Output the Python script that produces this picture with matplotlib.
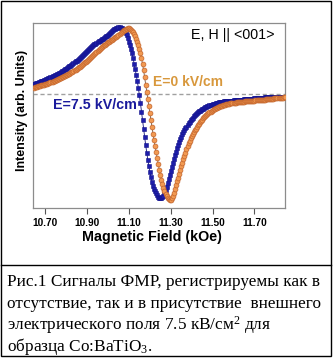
import numpy as np
import matplotlib
matplotlib.use("Agg")
import matplotlib.pyplot as plt
from matplotlib.patches import Rectangle
from matplotlib.lines import Line2D

plt.rcParams['font.family'] = ['Liberation Sans', 'DejaVu Sans']
plt.rcParams['mathtext.fontset'] = 'custom'
plt.rcParams['mathtext.rm'] = 'Liberation Serif'
plt.rcParams['mathtext.it'] = 'Liberation Serif:italic'

# field sweep, kOe
field_start = 10.645
field_step = 0.005

# FMR derivative signal, arb. units, baseline = 0
# E = 0 kV/cm
signal_e0 = [
    6.5, 6.8, 7.1, 7.4, 7.7, 8.0, 8.3, 8.6, 8.9, 9.2,
    9.5, 9.8, 10.2, 10.5, 10.9, 11.3, 11.7, 12.1, 12.5, 12.9,
    13.3, 13.8, 14.2, 14.7, 15.2, 15.7, 16.2, 16.7, 17.2, 17.7,
    18.2, 18.7, 19.3, 19.9, 20.5, 21.1, 21.7, 22.3, 23.0, 23.7,
    24.4, 25.1, 25.8, 26.6, 27.4, 28.2, 29.0, 29.8, 30.7, 31.6,
    32.5, 33.4, 34.4, 35.4, 36.4, 37.4, 38.4, 39.4, 40.4, 41.4,
    42.4, 43.4, 44.3, 45.2, 46.1, 47.0, 47.8, 48.6, 49.4, 50.2,
    50.9, 51.6, 52.3, 53.0, 53.8, 54.5, 55.3, 56.0, 56.8, 57.5,
    58.4, 59.2, 60.1, 61.0, 62.0, 63.0, 63.8, 64.5, 65.0, 65.5,
    65.7, 65.7, 65.2, 64.5, 63.4, 62.0, 60.2, 58.0, 55.2, 52.0,
    48.7, 45.0, 40.7, 36.0, 30.3, 24.0, 16.7, 9.0, 2.0, -5.0,
    -12.0, -19.0, -26.0, -33.0, -39.5, -46.0, -52.0, -58.0, -64.0, -70.0,
    -75.5, -81.0, -85.5, -90.0, -93.5, -97.0, -99.5, -102.0, -103.5, -105.0,
    -105.5, -105.5, -104.0, -102.0, -98.5, -95.0, -91.0, -87.0, -83.5, -80.0,
    -76.0, -72.0, -68.5, -65.0, -61.7, -58.5, -55.2, -52.0, -49.2, -46.5,
    -44.2, -42.0, -40.0, -38.0, -36.2, -34.5, -32.7, -31.0, -29.5, -28.0,
    -26.7, -25.5, -24.2, -23.0, -22.0, -21.0, -20.0, -19.0, -18.2, -17.5,
    -16.7, -16.0, -15.4, -14.7, -14.1, -13.5, -13.1, -12.7, -12.4, -12.0,
    -11.6, -11.2, -10.9, -10.5, -10.2, -10.0, -9.7, -9.5, -9.3, -9.1,
    -8.9, -8.7, -8.6, -8.5, -8.3, -8.2, -8.1, -8.0, -7.8, -7.7,
    -7.6, -7.5, -7.4, -7.3, -7.2, -7.1, -7.0, -6.9, -6.8, -6.7,
    -6.6, -6.5, -6.4, -6.3, -6.2, -6.1, -6.0, -5.9, -5.8, -5.7,
    -5.6, -5.5, -5.4, -5.2, -5.1, -5.0, -4.9, -4.8, -4.7, -4.5,
    -4.4, -4.3, -4.2, -4.1, -3.9, -3.8, -3.7, -3.6, -3.5, -3.4,
    -3.3,
]

# E = 7.5 kV/cm
signal_e75 = [
    10.2, 10.5, 10.8, 11.2, 11.5, 11.9, 12.3, 12.7, 13.1, 13.5,
    13.9, 14.3, 14.8, 15.2, 15.7, 16.2, 16.7, 17.2, 17.7, 18.2,
    18.7, 19.2, 19.7, 20.3, 20.9, 21.5, 22.1, 22.7, 23.3, 24.0,
    24.7, 25.4, 26.1, 26.8, 27.6, 28.4, 29.2, 30.0, 30.8, 31.7,
    32.6, 33.5, 34.4, 35.4, 36.4, 37.4, 38.4, 39.4, 40.4, 41.4,
    42.4, 43.4, 44.4, 45.3, 46.2, 47.1, 48.0, 48.8, 49.6, 50.4,
    51.2, 51.9, 52.6, 53.3, 54.0, 54.8, 55.5, 56.3, 57.0, 57.8,
    58.5, 59.4, 60.2, 61.1, 62.0, 63.0, 64.0, 64.8, 65.5, 66.0,
    66.4, 66.6, 66.7, 66.5, 66.0, 65.3, 64.3, 63.0, 61.0, 58.8,
    55.8, 52.5, 49.0, 45.2, 40.8, 36.0, 30.5, 25.0, 19.0, 13.0,
    6.5, -1.0, -9.0, -17.5, -26.0, -34.5, -43.0, -51.0, -58.5, -65.5,
    -72.0, -78.0, -83.0, -87.5, -91.5, -94.5, -97.0, -99.2, -101.0, -102.5,
    -103.5, -104.2, -104.3, -103.3, -101.8, -99.2, -96.0, -92.5, -88.6, -84.6,
    -80.6, -76.6, -72.6, -68.7, -64.8, -61.1, -57.6, -54.2, -51.0, -48.0,
    -45.2, -42.6, -40.2, -38.2, -36.2, -34.4, -32.7, -30.9, -29.2, -27.7,
    -26.2, -24.9, -23.7, -22.4, -21.2, -20.2, -19.2, -18.2, -17.3, -16.6,
    -15.9, -15.2, -14.5, -13.9, -13.3, -12.7, -12.1, -11.7, -11.3, -11.0,
    -10.6, -10.2, -9.9, -9.6, -9.2, -8.9, -8.7, -8.4, -8.2, -8.0,
    -7.8, -7.6, -7.4, -7.3, -7.2, -7.0, -6.9, -6.8, -6.7, -6.6,
    -6.5, -6.4, -6.3, -6.2, -6.1, -6.0, -5.9, -5.8, -5.7, -5.6,
    -5.5, -5.4, -5.3, -5.2, -5.1, -5.0, -4.9, -4.8, -4.7, -4.6,
    -4.5, -4.4, -4.3, -4.2, -4.1, -4.0, -3.9, -3.8, -3.7, -3.6,
    -3.5, -3.4, -3.3, -3.2, -3.2, -3.1, -3.0, -3.0, -2.9, -2.9,
    -2.8, -2.8, -2.8, -2.7, -2.7, -2.7, -2.6, -2.6, -2.6, -2.5,
    -2.5,
]

xticks = [10.70, 10.90, 11.10, 11.30, 11.50, 11.70]
xticklabels = ["10.70", "10.90", "11.10", "11.30", "11.50", "11.70"]

caption_lines = [
    "Рис.1 Сигналы ФМР, регистрируемы как в",
    "отсутствие, так и в присутствие  внешнего",
    "электрического поля 7.5 кВ/см$^2$ для",
    "образца Co:BaTiO$_3$.",
]

W, H = 336, 362
fig = plt.figure(figsize=(W / 100, H / 100), dpi=100)
fig.patch.set_facecolor('white')


def fx(px):
    return px / W


def fy(py):
    return 1 - py / H


ax_left, ax_right, ax_top, ax_bottom = 33.3, 285.0, 22.7, 208.0
ax = fig.add_axes([fx(ax_left), fy(ax_bottom),
                   (ax_right - ax_left) / W, (ax_bottom - ax_top) / H])

field_e0 = field_start + field_step * np.arange(len(signal_e0))
field_e75 = field_start + field_step * np.arange(len(signal_e75))

ax.axhline(0, color='#a0a0a0', lw=1.0, ls=(0, (3, 2)), zorder=1)

ax.plot(field_e75, signal_e75, '-', color='#14147a', lw=0.6, zorder=2)
ax.plot(field_e75, signal_e75, 's', ms=3.1, mfc='#1e1eaa', mec='#12128c',
        mew=0.4, ls='none', zorder=3)
ax.plot(field_e0, signal_e0, '-', color='#6e5544', lw=0.6, zorder=4)
ax.plot(field_e0, signal_e0, 'o', ms=3.5, mfc='#f29a52', mec='#c2642c',
        mew=0.5, ls='none', zorder=5)

ax.set_xlim(10.643, 11.846)
ax.set_ylim(-114, 71.3)
ax.set_yticks([])
ax.set_xticks(xticks)
ax.set_xticklabels(xticklabels, fontsize=7.3, fontweight='bold')
ax.tick_params(axis='x', direction='out', length=4, width=0.8,
               color='#555555', pad=3)
for s in ax.spines.values():
    s.set_color('#8c8c8c')
    s.set_linewidth(0.9)

ax.text(0.960, 0.934, "E, H || <001>", transform=ax.transAxes,
        ha='right', va='center', fontsize=10.3, color='black')
ax.text(0.4756, 0.6816, "E=0 kV/cm", transform=ax.transAxes,
        ha='left', va='center', fontsize=10, fontweight='bold',
        color='#d8983c')
ax.text(0.0783, 0.556, "E=7.5 kV/cm", transform=ax.transAxes,
        ha='left', va='center', fontsize=10.3, fontweight='bold',
        color='#1a1a9c')

fig.text(fx(22.5), fy(110), "Intensity (arb. Units)", rotation=90,
         ha='center', va='center', fontsize=9, fontweight='bold')
fig.text(fx(151.7), fy(236.7), "Magnetic Field (kOe)",
         ha='center', va='center', fontsize=10.3, fontweight='bold')

# frames
fig.add_artist(Rectangle((fx(0.5), fy(355.5)), 330.0 / W, 355.0 / H,
                         transform=fig.transFigure, fill=False,
                         ec='black', lw=1.0))
fig.add_artist(Line2D([fx(0.5), fx(330.5)], [fy(264.5), fy(264.5)],
                      transform=fig.transFigure, color='black', lw=1.0))

baselines = [286.5, 308.5, 330.0, 351.0]
for line, yb in zip(caption_lines, baselines):
    fig.text(fx(7), fy(yb), line, ha='left', va='baseline', fontsize=12.4,
             family=['Liberation Serif', 'DejaVu Serif'])

fig.savefig('out.png', dpi=100)
